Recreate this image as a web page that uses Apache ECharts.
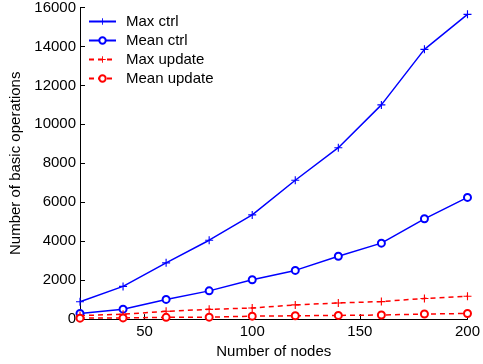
<!DOCTYPE html>
<html><head><meta charset="utf-8">
<script src="https://cdn.jsdelivr.net/npm/echarts@6/dist/echarts.min.js"></script>
<style>html,body{margin:0;padding:0;background:#fff}#c{width:483px;height:364px}</style>
</head><body><div id="c"></div>
<script>
const nodes = [20, 40, 60, 80, 100, 120, 140, 160, 180, 200];
const maxCtrl = [890, 1680, 2890, 4050, 5350, 7130, 8800, 11000, 13850, 15650];
const meanCtrl = [290, 510, 1010, 1450, 2020, 2500, 3230, 3900, 5150, 6250];
const maxUpdate = [180, 250, 400, 500, 570, 730, 830, 900, 1060, 1170];
const meanUpdate = [50, 60, 90, 100, 150, 170, 190, 210, 260, 290];
const xTicks = [50, 100, 150, 200];
const seriesNames = ['Max ctrl', 'Mean ctrl', 'Max update', 'Mean update'];

const plus = 'path://M-0.14,-1 L0.14,-1 L0.14,-0.14 L1,-0.14 L1,0.14 L0.14,0.14 L0.14,1 L-0.14,1 L-0.14,0.14 L-1,0.14 L-1,-0.14 L-0.14,-0.14 Z';
const font = 'Liberation Sans';
const fs = 15;
function mk(name, vals, color, dashed, sym) {
  return {
    name, type: 'line', data: nodes.map((n, i) => [n, vals[i]]),
    symbol: sym === 'plus' ? plus : 'emptyCircle',
    symbolSize: sym === 'plus' ? 8 : 7,
    showAllSymbol: true,
    lineStyle: { color, width: 1.5, type: dashed ? [5, 4] : 'solid' },
    itemStyle: { color, borderColor: color, borderWidth: sym === 'plus' ? 0 : 1.5 },
    emphasis: { disabled: true },
    animation: false
  };
}
const chart = echarts.init(document.getElementById('c'));
chart.setOption({
  animation: false,
  grid: { left: 74, right: 13, top: 7, bottom: 44 },
  legend: {
    orient: 'vertical', left: 88, top: 14, padding: 0, itemGap: 4, itemWidth: 27, itemHeight: 8,
    textStyle: { fontFamily: font, fontSize: fs, color: '#000', padding: [0, 0, 0, 5] },
    data: seriesNames
  },
  xAxis: {
    type: 'value', min: 20, max: 200,
    name: 'Number of nodes', nameLocation: 'middle', nameGap: 22,
    nameTextStyle: { fontFamily: font, fontSize: fs, color: '#000' },
    axisLine: { show: true, lineStyle: { color: '#000', width: 1 } },
    axisTick: { show: true, inside: true, length: 5, lineStyle: { color: '#000' }, customValues: xTicks },
    axisLabel: { fontFamily: font, fontSize: fs, color: '#000', margin: 5, customValues: xTicks },
    splitLine: { show: false }
  },
  yAxis: {
    type: 'value', min: 0, max: 16000, interval: 2000,
    name: 'Number of basic operations', nameLocation: 'middle', nameGap: 57,
    nameTextStyle: { fontFamily: font, fontSize: fs, color: '#000' },
    axisLine: { show: true, lineStyle: { color: '#000', width: 1 } },
    axisTick: { show: true, inside: true, length: 5, lineStyle: { color: '#000' } },
    axisLabel: { fontFamily: font, fontSize: fs, color: '#000', margin: 4, formatter: v => String(v) },
    splitLine: { show: false }
  },
  series: [
    mk(seriesNames[0], maxCtrl, '#0000ff', false, 'plus'),
    mk(seriesNames[1], meanCtrl, '#0000ff', false, 'circle'),
    mk(seriesNames[2], maxUpdate, '#ff0000', true, 'plus'),
    mk(seriesNames[3], meanUpdate, '#ff0000', true, 'circle')
  ]
});
</script></body></html>
